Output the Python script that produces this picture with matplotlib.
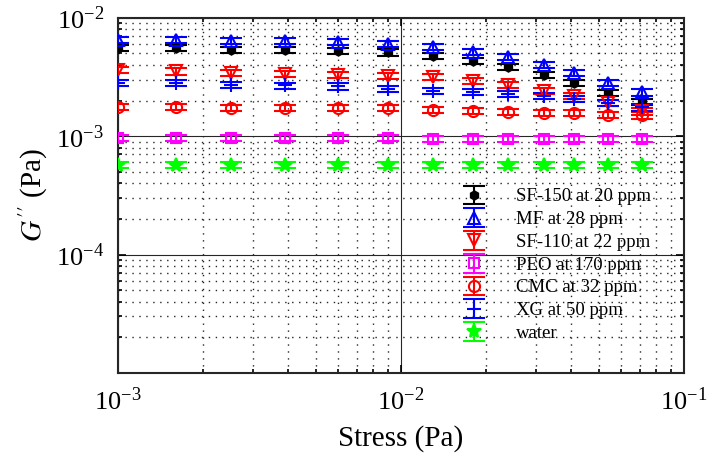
import numpy as np
import matplotlib
matplotlib.use("Agg")
import matplotlib.pyplot as plt
from matplotlib.ticker import LogLocator, NullFormatter, FuncFormatter

plt.rcParams["font.family"] = ["Liberation Serif", "DejaVu Serif"]
plt.rcParams["mathtext.fontset"] = "stix"

# data
stress = [0.001, 0.0016, 0.0025, 0.0039, 0.006, 0.009, 0.013, 0.018,
          0.024, 0.032, 0.041, 0.054, 0.071]

sf150 = [5.55e-3, 5.55e-3, 5.36e-3, 5.36e-3, 5.26e-3, 5.1e-3, 4.77e-3,
         4.35e-3, 3.83e-3, 3.30e-3, 2.81e-3, 2.31e-3, 1.96e-3]
mf = [6.5e-3, 6.5e-3, 6.4e-3, 6.4e-3, 6.3e-3, 6.0e-3, 5.72e-3, 5.19e-3,
      4.65e-3, 4.01e-3, 3.41e-3, 2.81e-3, 2.34e-3]
sf110 = [3.64e-3, 3.52e-3, 3.4e-3, 3.36e-3, 3.3e-3, 3.23e-3, 3.16e-3,
         2.95e-3, 2.72e-3, 2.43e-3, 2.19e-3, 1.90e-3, 1.62e-3]
peo = [0.97e-3, 0.97e-3, 0.97e-3, 0.97e-3, 0.96e-3, 0.96e-3, 0.95e-3,
       0.95e-3, 0.95e-3, 0.95e-3, 0.95e-3, 0.95e-3, 0.95e-3]
cmc = [1.76e-3, 1.76e-3, 1.74e-3, 1.74e-3, 1.73e-3, 1.72e-3, 1.67e-3,
       1.64e-3, 1.61e-3, 1.58e-3, 1.56e-3, 1.51e-3, 1.50e-3]
xg = [2.8e-3, 2.8e-3, 2.71e-3, 2.68e-3, 2.63e-3, 2.5e-3, 2.43e-3,
      2.38e-3, 2.28e-3, 2.19e-3, 2.05e-3, 1.90e-3, 1.75e-3]
water = [5.7e-4, 5.7e-4, 5.7e-4, 5.7e-4, 5.7e-4, 5.7e-4, 5.7e-4,
         5.7e-4, 5.7e-4, 5.7e-4, 5.7e-4, 5.7e-4, 5.7e-4]

labels = ["SF-150 at 20 ppm", "MF at 28 ppm", "SF-110 at 22 ppm",
          "PEO at 170 ppm", "CMC at 32 ppm", "XG at 50 ppm", "water"]
series = [sf150, mf, sf110, peo, cmc, xg, water]
colors = ["black", "#0000ff", "#ff0000", "#ff00ff", "#ff0000", "#0000ff", "#00ff00"]
markers = ["h", "^", "v", "s", "o", "+", "*"]
msizes = [6, 8, 8, 7, 8, 10, 10]
rel_err = 0.06

fig = plt.figure(figsize=(7.07, 4.69), dpi=100)
ax = fig.add_axes([0.167, 0.205, 0.8, 0.757])

for y, lab, c, m, ms in zip(series, labels, colors, markers, msizes):
    y = np.array(y)
    filled = m in ("h", "*")
    ax.errorbar(stress, y, yerr=rel_err * y, fmt=m, color=c, ms=ms,
                mfc=c if filled else "none", mec=c, mew=1.5,
                ecolor=c, elinewidth=1.5, capsize=8, capthick=1.5,
                label=lab, zorder=3)

ax.set_xscale("log")
ax.set_yscale("log")
ax.set_xlim(1e-3, 1e-1)
ax.set_ylim(1e-5, 1e-2)


def pow_label(v, pos):
    e = int(round(np.log10(v)))
    if e == -5:
        return ""
    return "10$^{\\mathregular{-%d}}$" % abs(e)


ax.xaxis.set_major_locator(LogLocator(base=10, numticks=10))
ax.yaxis.set_major_locator(LogLocator(base=10, numticks=10))
ax.xaxis.set_major_formatter(FuncFormatter(pow_label))
ax.yaxis.set_major_formatter(FuncFormatter(pow_label))
ax.xaxis.set_minor_locator(LogLocator(base=10, subs=np.arange(2, 10), numticks=20))
ax.yaxis.set_minor_locator(LogLocator(base=10, subs=np.arange(2, 10), numticks=20))
ax.xaxis.set_minor_formatter(NullFormatter())
ax.yaxis.set_minor_formatter(NullFormatter())

ax.grid(True, which="major", linestyle="-", color="#262626", linewidth=0.8)
ax.grid(True, which="minor", linestyle=(0, (1, 4)), color="#262626", linewidth=1.0)
ax.set_axisbelow(True)

ax.tick_params(which="both", direction="in", top=True, right=True,
               labelsize=19, width=1.2)
ax.tick_params(which="major", length=6, pad=10)
ax.tick_params(which="minor", length=3)
for s in ax.spines.values():
    s.set_linewidth(1.5)
    s.set_color("#262626")

ax.set_xlabel("Stress (Pa)", fontsize=21, labelpad=8)
ax.set_ylabel("$G^{\\prime\\prime}$ (Pa)", fontsize=21, labelpad=4)

leg = ax.legend(loc="lower right", bbox_to_anchor=(0.965, 0.05), frameon=False,
                fontsize=13.5, handlelength=1.2, handletextpad=1.65,
                labelspacing=0.3, borderpad=0.2)

fig.savefig("out.png", dpi=100)
